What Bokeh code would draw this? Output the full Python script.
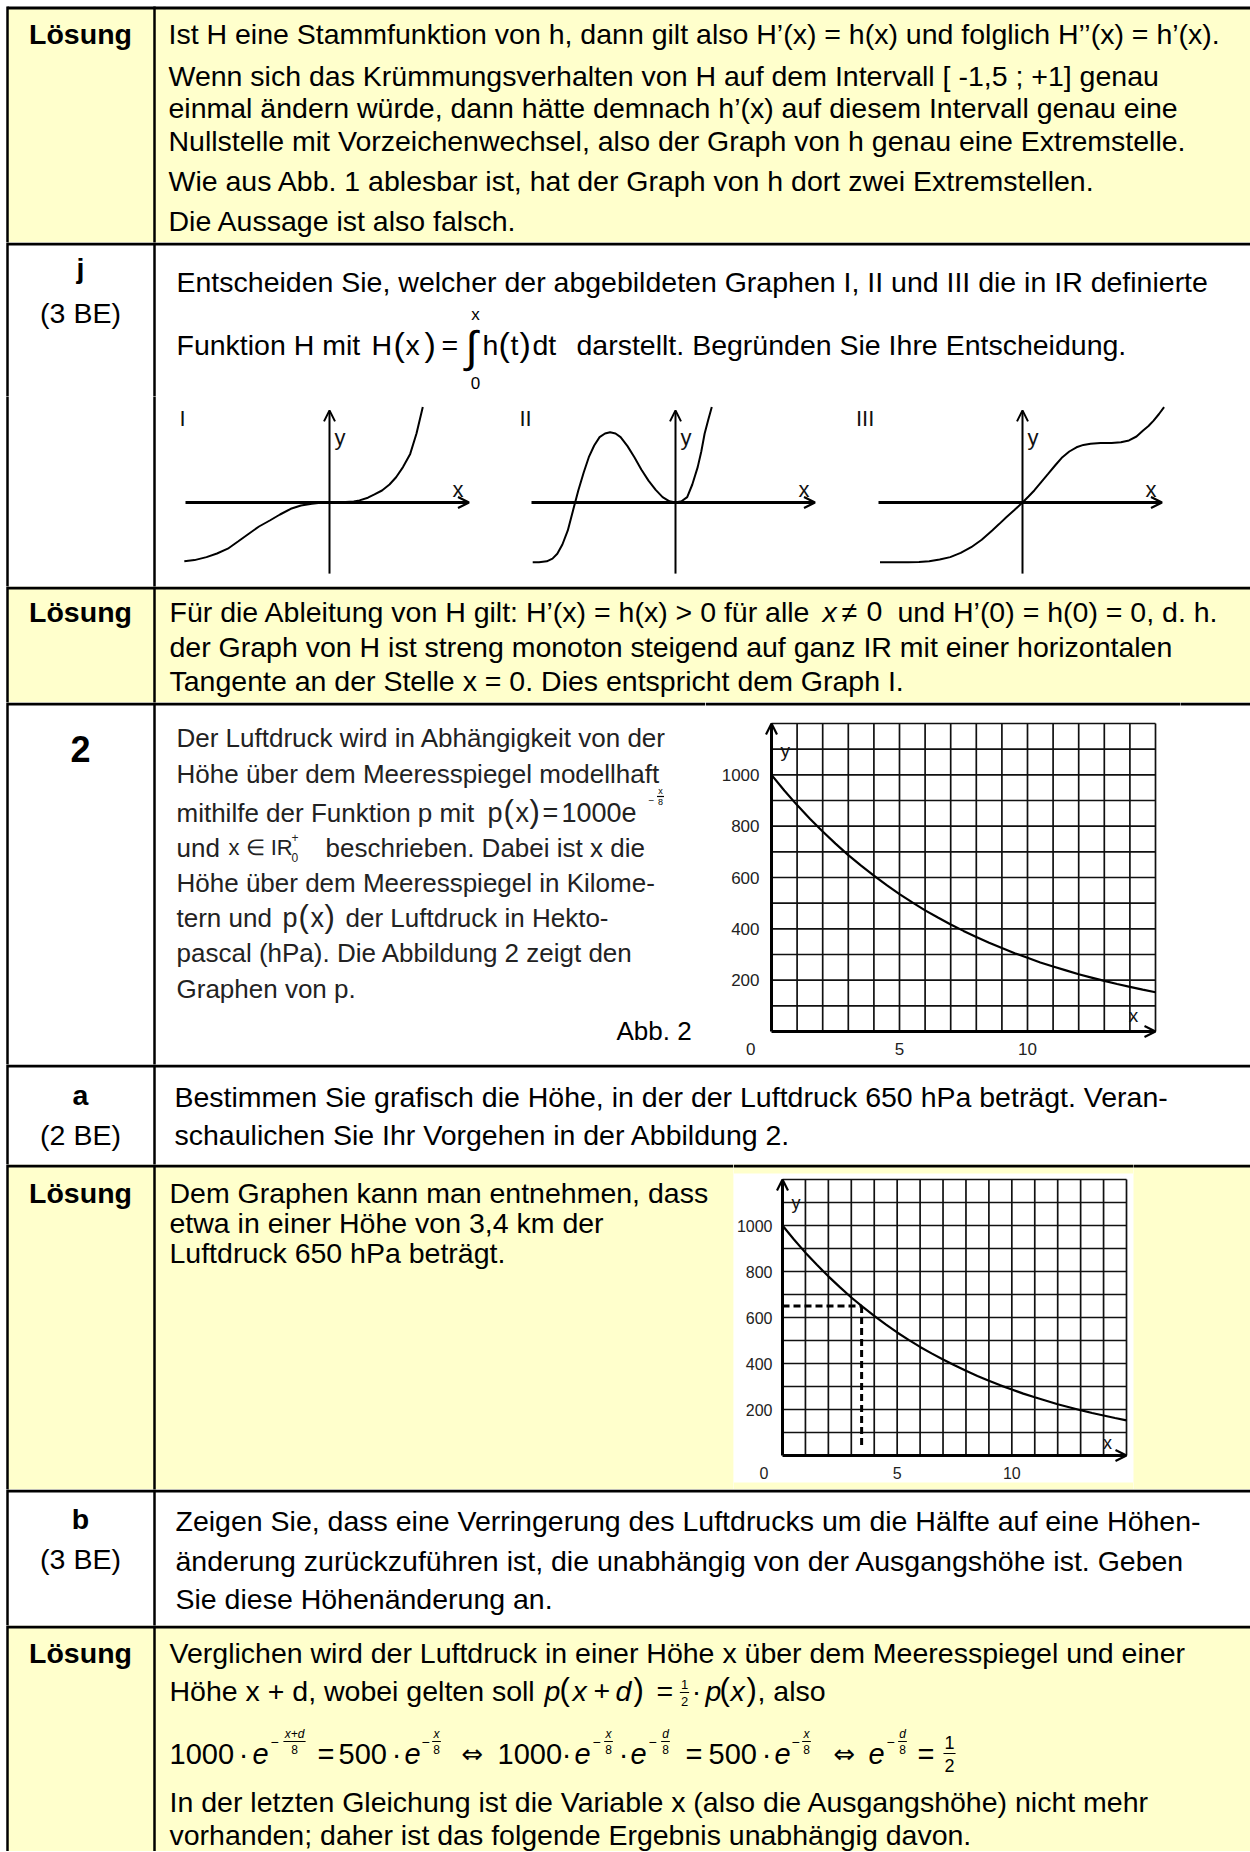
from bokeh.plotting import figure
from bokeh.models import Range1d, Arrow, OpenHead
from bokeh.layouts import column, row
from bokeh.core.properties import value
from bokeh.embed import file_html
from bokeh.resources import INLINE

# ---------------- data ----------------
height_km = [0, 0.5, 1, 1.5, 2, 2.5, 3, 3.5, 4, 4.5, 5, 5.5, 6, 6.5, 7, 7.5,
             8, 8.5, 9, 9.5, 10, 10.5, 11, 11.5, 12, 12.5, 13, 13.5, 14, 14.5, 15]
pressure_hpa = [1000, 939, 882, 829, 779, 732, 687, 646, 607, 570, 535, 503, 472, 444, 417, 392,
                368, 346, 325, 305, 287, 269, 253, 238, 223, 210, 197, 185, 174, 163, 153]
pressure_ticks = [200, 400, 600, 800, 1000]
height_ticks = [5, 10]
height_grid = list(range(1, 16))
pressure_grid = list(range(100, 1300, 100))
read_pressure = 650
read_height = 3.45
read_bottom = 30

graph_I_x = [-4.84, -4.5, -4.10, -3.75, -3.39, -3.05, -2.69, -2.35, -1.99, -1.65, -1.29, -0.95, -0.59,
             -0.3, 0, 0.4, 0.81, 1.0, 1.28, 1.5, 1.75, 2.0, 2.22, 2.45, 2.69, 2.9, 3.11]
graph_I_y = [-1.96, -1.92, -1.82, -1.70, -1.54, -1.30, -1.04, -0.80, -0.60, -0.40, -0.21, -0.10, -0.04,
             -0.01, 0, 0.005, 0.03, 0.07, 0.16, 0.27, 0.40, 0.60, 0.84, 1.18, 1.62, 2.30, 3.18]
graph_II_x = [-4.76, -4.55, -4.29, -4.1, -3.94, -3.77, -3.59, -3.42, -3.24, -3.06, -2.89, -2.71, -2.53,
              -2.35, -2.18, -2.0, -1.83, -1.6, -1.37, -1.14, -0.90, -0.66, -0.43, -0.2, 0, 0.2, 0.39,
              0.56, 0.74, 0.86, 0.97, 1.09, 1.21]
graph_II_y = [-1.99, -1.99, -1.96, -1.87, -1.71, -1.40, -0.93, -0.28, 0.40, 1.0, 1.51, 1.90, 2.18,
              2.30, 2.34, 2.30, 2.18, 1.88, 1.51, 1.10, 0.73, 0.42, 0.18, 0.04, 0, 0.04, 0.18,
              0.6, 1.18, 1.7, 2.29, 2.75, 3.18]
graph_III_x = [-4.75, -4.3, -3.81, -3.45, -3.11, -2.76, -2.41, -2.06, -1.71, -1.36, -1.01, -0.78, -0.54,
               -0.27, 0, 0.2, 0.40, 0.63, 0.86, 1.1, 1.33, 1.56, 1.80, 2.03, 2.27, 2.6, 2.97, 3.28,
               3.55, 3.8, 4.02, 4.2, 4.37, 4.55, 4.72]
graph_III_y = [-1.99, -1.99, -1.99, -1.98, -1.96, -1.90, -1.82, -1.68, -1.49, -1.24, -0.93, -0.72, -0.49,
               -0.25, 0, 0.2, 0.41, 0.69, 0.96, 1.25, 1.51, 1.70, 1.84, 1.92, 1.96, 1.98, 1.98, 2.01,
               2.07, 2.2, 2.40, 2.55, 2.73, 2.95, 3.18]

# ---------------- layout / style ----------------
FONT = "Liberation Sans"
YELLOW = "#FFFFCC"
W = 1250
H = 1851
EDGES = [7, 242, 586, 702, 1064, 1164, 1489, 1625, H]
FILLS = [YELLOW, "white", YELLOW, "white", "white", YELLOW, "white", YELLOW]
HLINES = [7.5] + [e + 1.5 for e in EDGES[1:-1]]
C4 = "#222222"
FS = 28.5


def T(x, y, s, size=FS, style="normal", align="left", color="black", font=FONT):
    return ("t", x, y, s, size, style, align, color, font)


def FR(cx, yc, num, den, size, style="italic"):
    w = size * 0.56 * max(len(num), len(den)) + 2
    return [T(cx, yc - size * 0.62, num, size, style, "center"),
            T(cx, yc + size * 0.66, den, size, "normal", "center"),
            ("l", cx - w / 2, yc, cx + w / 2, yc, 1.2)]


def base_fig(w, h, xr, yr, fill="white"):
    return figure(width=w, height=h, x_range=xr, y_range=yr,
                  x_axis_type=None, y_axis_type=None, toolbar_location=None, output_backend="svg",
                  min_border=0, outline_line_color=None,
                  background_fill_color=fill, border_fill_color=fill)


def pxfig(x0, x1, y0, y1, items=()):
    p = base_fig(x1 - x0, y1 - y0, Range1d(x0, x1), Range1d(y1, y0))
    n = len(FILLS)
    p.quad(left=[7] * n, right=[W] * n, top=EDGES[:-1], bottom=EDGES[1:],
           fill_color=FILLS, line_color=None)
    p.segment(x0=[7] * len(HLINES), x1=[W] * len(HLINES), y0=HLINES, y1=HLINES,
              line_color="black", line_width=3)
    p.segment(x0=[7, 154], x1=[7, 154], y0=[6, 6], y1=[H, H], line_color="black", line_width=2.5)
    for it in items:
        if it[0] == "t":
            _, x, y, s, size, style, align, color, font = it
            p.text(x=[x], y=[y], text=[s], text_font=value(font), text_font_size=f"{size}px",
                   text_font_style=style, text_align=align, text_baseline="middle", text_color=color)
        else:
            _, xa, ya, xb, yb, lw = it
            p.segment(x0=[xa], y0=[ya], x1=[xb], y1=[yb], line_color="black", line_width=lw)
    return p


S = 30.0
MY0, MY1, MOY = 396, 586, 502


def mini(fx0, fx1, ox, xs, ys, roman, rx):
    p = base_fig(fx1 - fx0, MY1 - MY0,
                 Range1d((fx0 - ox) / S, (fx1 - ox) / S),
                 Range1d((MOY - MY1) / S, (MOY - MY0) / S))
    p.add_layout(Arrow(end=OpenHead(size=11, line_width=2.2, line_color="black"),
                       x_start=-4.8, y_start=0, x_end=4.65, y_end=0, line_width=2.8, line_color="black"))
    p.add_layout(Arrow(end=OpenHead(size=11, line_width=2, line_color="black"),
                       x_start=0, y_start=-2.37, x_end=0, y_end=3.07, line_width=2, line_color="black"))
    p.line(xs, ys, line_color="black", line_width=2)
    p.text(x=[rx, 0.17, 4.1], y=[2.8, 2.17, 0.42], text=[roman, "y", "x"],
           text_font=value(FONT), text_font_size="22px", text_align="left", text_baseline="middle",
           text_color="#111111")
    return p


def pressure_chart(fx0, fx1, fy0, fy1, ox, sx, oy, sy, fill, box, border_y, fs,
                   ylab_px, xlab_px, ylab_pos, xlab_pos, dashed):
    # page pixel -> data helpers (layout only)
    X = lambda px: (px - ox) / sx
    Y = lambda py: (oy - py) / sy
    p = base_fig(fx1 - fx0, fy1 - fy0, Range1d(X(fx0), X(fx1)), Range1d(Y(fy1), Y(fy0)), fill)
    if box is not None:
        p.quad(left=[X(box[0])], right=[X(box[1])], top=[Y(box[2])], bottom=[Y(box[3])],
               fill_color="white", line_color=None)
    p.segment(x0=[X(fx0)], x1=[X(fx1)], y0=[Y(border_y)], y1=[Y(border_y)],
              line_color="black", line_width=3)
    # grid
    xmax, ymax = height_grid[-1], pressure_grid[-1]
    p.segment(x0=height_grid, x1=height_grid, y0=[0] * len(height_grid), y1=[ymax] * len(height_grid),
              line_color="#111111", line_width=1.7)
    p.segment(x0=[0] * len(pressure_grid), x1=[xmax] * len(pressure_grid), y0=pressure_grid,
              y1=pressure_grid, line_color="#111111", line_width=1.7)
    if dashed:
        p.line([0, read_height], [read_pressure, read_pressure], line_color="black",
               line_width=3, line_dash="7 4")
        p.line([read_height, read_height], [read_pressure, read_bottom], line_color="black",
               line_width=3, line_dash="7 4")
    p.line(height_km, pressure_hpa, line_color="black", line_width=2.2)
    p.add_layout(Arrow(end=OpenHead(size=11, line_width=2.2, line_color="black"),
                       x_start=0, y_start=0, x_end=xmax, y_end=0, line_width=3, line_color="black"))
    p.add_layout(Arrow(end=OpenHead(size=11, line_width=2.2, line_color="black"),
                       x_start=0, y_start=0, x_end=0, y_end=ymax, line_width=3, line_color="black"))
    lab = dict(text_font=value(FONT), text_font_size=f"{fs}px", text_baseline="middle",
               text_color="#222222")
    p.text(x=[X(ylab_px)] * len(pressure_ticks), y=pressure_ticks,
           text=[str(v) for v in pressure_ticks], text_align="right", **lab)
    p.text(x=height_ticks, y=[Y(xlab_px)] * len(height_ticks),
           text=[str(v) for v in height_ticks], text_align="center", **lab)
    p.text(x=[X(ylab_px - 4)], y=[Y(xlab_px)], text=["0"], text_align="right", **lab)
    p.text(x=[X(ylab_pos[0])], y=[Y(ylab_pos[1])], text=["y"], text_font=value(FONT),
           text_font_size=f"{fs + 2}px", text_align="left", text_baseline="middle", text_color="#111111")
    p.text(x=[X(xlab_pos[0])], y=[Y(xlab_pos[1])], text=["x"], text_font=value(FONT),
           text_font_size=f"{fs + 2}px", text_align="center", text_baseline="middle", text_color="#111111")
    return p


# ---------------- texts ----------------
R1_LINES = [
    "Ist H eine Stammfunktion von h, dann gilt also H’(x) = h(x) und folglich H’’(x) = h’(x).",
    "Wenn sich das Krümmungsverhalten von H auf dem Intervall [ -1,5 ; +1] genau",
    "einmal ändern würde, dann hätte demnach h’(x) auf diesem Intervall genau eine",
    "Nullstelle mit Vorzeichenwechsel, also der Graph von h genau eine Extremstelle.",
    "Wie aus Abb. 1 ablesbar ist, hat der Graph von h dort zwei Extremstellen.",
    "Die Aussage ist also falsch.",
]
R1 = [T(80, 33, "Lösung", style="bold", align="center")] + \
     [T(168, y, s) for y, s in zip([33, 75, 107, 140, 180, 220], R1_LINES)]

R2 = [T(80, 267, "j", style="bold", align="center"),
      T(80, 312, "(3 BE)", align="center"),
      T(176, 281, "Entscheiden Sie, welcher der abgebildeten Graphen I, II und III die in IR definierte"),
      T(176, 344, "Funktion H mit"), T(371, 344, "H"), T(393, 343, "(", 34), T(405, 344, "x"),
      T(424, 343, ")", 34), T(441, 344, "="), T(471, 346, "∫", 44, align="center"),
      T(475, 314, "x", 17, align="center"), T(475, 382, "0", 17, align="center"),
      T(482, 344, "h"), T(498, 343, "(", 34), T(510, 344, "t"), T(519, 343, ")", 34),
      T(532, 344, "dt"), T(576, 344, "darstellt. Begründen Sie Ihre Entscheidung.")]

R3 = [T(80, 611, "Lösung", style="bold", align="center"),
      T(169, 611, "Für die Ableitung von H gilt: H’(x) = h(x) > 0 für alle"),
      T(822, 611, "x", style="italic"), T(841, 611, "≠"), T(866, 611, "0"),
      T(897, 611, "und H’(0) = h(0) = 0, d. h."),
      T(169, 646, "der Graph von H ist streng monoton steigend auf ganz IR mit einer horizontalen"),
      T(169, 680, "Tangente an der Stelle x = 0. Dies entspricht dem Graph I.")]

F4 = 26
R4 = [T(80, 748, "2", 36, "bold", "center"),
      T(176, 737, "Der Luftdruck wird in Abhängigkeit von der", F4, color=C4),
      T(176, 773, "Höhe über dem Meeresspiegel modellhaft", F4, color=C4),
      T(176, 812, "mithilfe der Funktion p mit", F4, color=C4),
      T(487, 812, "p", 27, color=C4), T(503, 811, "(", 31, color=C4), T(515, 812, "x", 27, color=C4),
      T(529, 811, ")", 31, color=C4), T(542, 812, "=", 27, color=C4), T(561, 812, "1000e", 27, color=C4),
      T(651, 799, "−", 10, align="center", color=C4)] + FR(660, 796, "x", "8", 9, "normal") + [
      T(176, 847, "und", F4, color=C4), T(228, 847, "x ∈ IR", 22, color=C4),
      T(291, 837, "+", 12, color=C4), T(291, 857, "0", 12, color=C4),
      T(325, 847, "beschrieben. Dabei ist x die", F4, color=C4),
      T(176, 882, "Höhe über dem Meeresspiegel in Kilome-", F4, color=C4),
      T(176, 917, "tern und", F4, color=C4), T(282, 917, "p", 27, color=C4), T(298, 916, "(", 31, color=C4),
      T(310, 917, "x", 27, color=C4), T(324, 916, ")", 31, color=C4),
      T(345, 917, "der Luftdruck in Hekto-", F4, color=C4),
      T(176, 952, "pascal (hPa). Die Abbildung 2 zeigt den", F4, color=C4),
      T(176, 988, "Graphen von p.", F4, color=C4),
      T(616, 1030, "Abb. 2", 26)]

R5 = [T(80, 1094, "a", style="bold", align="center"),
      T(80, 1134, "(2 BE)", align="center"),
      T(174, 1096, "Bestimmen Sie grafisch die Höhe, in der der Luftdruck 650 hPa beträgt. Veran-"),
      T(174, 1134, "schaulichen Sie Ihr Vorgehen in der Abbildung 2.")]

R6 = [T(80, 1192, "Lösung", style="bold", align="center"),
      T(169, 1192, "Dem Graphen kann man entnehmen, dass"),
      T(169, 1222, "etwa in einer Höhe von 3,4 km der"),
      T(169, 1252, "Luftdruck 650 hPa beträgt.")]

R7 = [T(80, 1518, "b", style="bold", align="center"),
      T(80, 1558, "(3 BE)", align="center"),
      T(175, 1520, "Zeigen Sie, dass eine Verringerung des Luftdrucks um die Hälfte auf eine Höhen-"),
      T(175, 1560, "änderung zurückzuführen ist, die unabhängig von der Ausgangshöhe ist. Geben"),
      T(175, 1598, "Sie diese Höhenänderung an.")]

YF = 1753
YE = 1741
MF = 29
R8 = [T(80, 1652, "Lösung", style="bold", align="center"),
      T(169, 1652, "Verglichen wird der Luftdruck in einer Höhe x über dem Meeresspiegel und einer"),
      T(169, 1690, "Höhe x + d, wobei gelten soll"),
      T(544, 1690, "p", style="italic"), T(559, 1689, "(", 31), T(572, 1690, "x", style="italic"),
      T(593, 1690, "+"), T(615, 1690, "d", style="italic"), T(633, 1689, ")", 31), T(656, 1690, "=")] + \
     FR(684, 1692, "1", "2", 13, "normal") + [
      T(696, 1690, "·", align="center"), T(705, 1690, "p", style="italic"), T(719, 1689, "(", 31),
      T(730, 1690, "x", style="italic"), T(746, 1689, ")", 31), T(757, 1690, ", also"),
      T(169, YF, "1000", MF), T(243, YF, "·", MF, align="center"), T(252, YF, "e", MF, "italic"),
      T(274, YE, "−", 14, align="center")] + FR(294, YE, "x+d", "8", 12) + [
      T(317, YF, "=", MF), T(338, YF, "500", MF), T(396, YF, "·", MF, align="center"),
      T(404, YF, "e", MF, "italic"), T(425, YE, "−", 14, align="center")] + FR(436, YE, "x", "8", 12) + [
      T(472, YF, "⇔", 26, align="center", font="DejaVu Sans"),
      T(497, YF, "1000", MF), T(566, YF, "·", MF, align="center"), T(574, YF, "e", MF, "italic"),
      T(596, YE, "−", 14, align="center")] + FR(608, YE, "x", "8", 12) + [
      T(623, YF, "·", MF, align="center"), T(630, YF, "e", MF, "italic"),
      T(652, YE, "−", 14, align="center")] + FR(665, YE, "d", "8", 12) + [
      T(685, YF, "=", MF), T(708, YF, "500", MF), T(766, YF, "·", MF, align="center"),
      T(774, YF, "e", MF, "italic"), T(795, YE, "−", 14, align="center")] + FR(806, YE, "x", "8", 12) + [
      T(844, YF, "⇔", 26, align="center", font="DejaVu Sans"),
      T(868, YF, "e", MF, "italic"), T(890, YE, "−", 14, align="center")] + FR(902, YE, "d", "8", 12) + [
      T(917, YF, "=", MF)] + FR(949, YF, "1", "2", 18, "normal") + [
      T(169, 1801, "In der letzten Gleichung ist die Variable x (also die Ausgangshöhe) nicht mehr"),
      T(169, 1834, "vorhanden; daher ist das folgende Ergebnis unabhängig davon.")]

# ---------------- build ----------------
r1 = pxfig(0, W, 0, 242, R1)
r2a = pxfig(0, W, 242, MY0, R2)
r2b = row(pxfig(0, 172, MY0, MY1),
          mini(172, 500, 329, graph_I_x, graph_I_y, "I", -5.0),
          mini(500, 836, 675, graph_II_x, graph_II_y, "II", -5.2),
          mini(836, W, 1022, graph_III_x, graph_III_y, "III", -5.55))
r3 = pxfig(0, W, 586, 702, R3)
c1 = pressure_chart(705, 1180, 702, 1064, 771, 384 / 15, 1031, 308 / 1200, "white", None, 703.5, 17,
                    759, 1048, (780, 750), (1133, 1015), False)
r4 = row(pxfig(0, 705, 702, 1064, R4), c1, pxfig(1180, W, 702, 1064))
r5 = pxfig(0, W, 1064, 1164, R5)
c2 = pressure_chart(733, 1133, 1164, 1489, 782, 344 / 15, 1455, 276 / 1200, YELLOW,
                    (733, 1133, 1173, 1482), 1165.5, 16,
                    772, 1472, (791, 1202), (1107, 1442), True)
r6 = row(pxfig(0, 733, 1164, 1489, R6), c2, pxfig(1133, W, 1164, 1489))
r7 = pxfig(0, W, 1489, 1625, R7)
r8 = pxfig(0, W, 1625, H, R8)

page = column(r1, r2a, r2b, r3, r4, r5, r6, r7, r8)

open("out.html", "w").write(file_html(page, INLINE))
